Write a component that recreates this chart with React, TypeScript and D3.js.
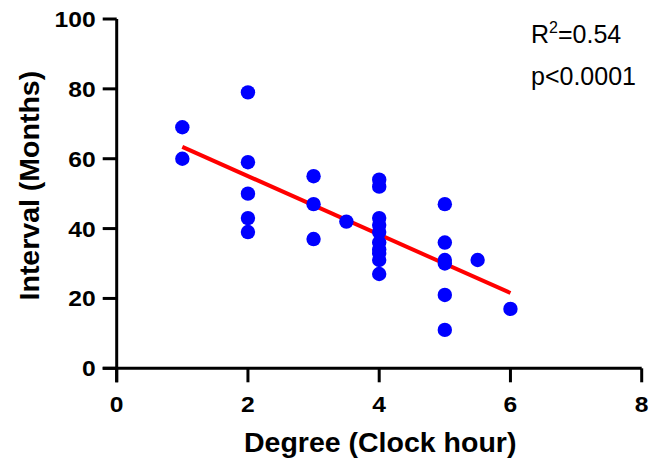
import React from "react";
import * as d3 from "d3";

const degree = [
  1, 1,
  2, 2, 2, 2, 2,
  3, 3, 3,
  3.5,
  4, 4, 4, 4, 4, 4, 4, 4, 4, 4,
  5, 5, 5, 5, 5, 5,
  5.5,
  6,
];
const interval = [
  69, 60,
  79, 59, 50, 43, 39,
  55, 47, 37,
  42,
  54, 52, 43, 41, 39, 36, 34, 33, 31, 27,
  47, 36, 31, 30, 21, 11,
  31,
  17,
];
const xTicks = [0, 2, 4, 6, 8];
const yTicks = [0, 20, 40, 60, 80, 100];
const xTitle = "Degree (Clock hour)";
const yTitle = "Interval (Months)";
const r2Label = "0.54";
const pLabel = "p<0.0001";

const W = 654;
const H = 464;
const FONT = "Arial, 'Liberation Sans', Helvetica, sans-serif";

export default function App() {
  const x = d3.scaleLinear().domain([0, 8]).range([116.7, 641.7]);
  const y = d3.scaleLinear().domain([0, 100]).range([368.3, 19]);

  // least squares fit
  const mx = d3.mean(degree) as number;
  const my = d3.mean(interval) as number;
  let sxy = 0;
  let sxx = 0;
  degree.forEach((d, i) => {
    sxy += (d - mx) * (interval[i] - my);
    sxx += (d - mx) * (d - mx);
  });
  const slope = sxy / sxx;
  const intercept = my - slope * mx;
  const xMin = d3.min(degree) as number;
  const xMax = d3.max(degree) as number;
  const fitLine = d3
    .line<number>()
    .x((d) => x(d))
    .y((d) => y(intercept + slope * d));

  const tickLen = 14;
  const sw = 3;
  const stretch = 1.12;

  return (
    <svg
      width={W}
      height={H}
      style={{ position: "absolute", left: 0, top: 0, background: "#fff" }}
    >
      <rect x={0} y={0} width={W} height={H} fill="#fff" />
      {/* regression line */}
      <path
        d={fitLine([xMin, xMax]) || ""}
        stroke="#ff0000"
        strokeWidth={4}
        fill="none"
      />
      {/* points */}
      {degree.map((d, i) => (
        <circle key={i} cx={x(d)} cy={y(interval[i])} r={7.2} fill="#0000ff" />
      ))}
      {/* y axis */}
      <line
        x1={x(0)}
        x2={x(0)}
        y1={y(100)}
        y2={y(0) + tickLen}
        stroke="#000"
        strokeWidth={sw}
      />
      {yTicks.map((t) => (
        <g key={"y" + t}>
          <line
            x1={x(0) - tickLen}
            x2={x(0)}
            y1={y(t)}
            y2={y(t)}
            stroke="#000"
            strokeWidth={sw}
          />
          <text
            transform={`translate(${x(0) - 21}, ${y(t)}) scale(${stretch}, 1)`}
            dy="0.36em"
            textAnchor="end"
            fontFamily={FONT}
            fontWeight="bold"
            fontSize={22}
          >
            {t}
          </text>
        </g>
      ))}
      {/* x axis */}
      <line
        x1={x(0) - tickLen}
        x2={x(8)}
        y1={y(0)}
        y2={y(0)}
        stroke="#000"
        strokeWidth={sw}
      />
      {xTicks.map((t) => (
        <g key={"x" + t}>
          <line
            x1={x(t)}
            x2={x(t)}
            y1={y(0)}
            y2={y(0) + tickLen}
            stroke="#000"
            strokeWidth={sw}
          />
          <text
            transform={`translate(${x(t)}, 412) scale(${stretch}, 1)`}
            textAnchor="middle"
            fontFamily={FONT}
            fontWeight="bold"
            fontSize={22}
          >
            {t}
          </text>
        </g>
      ))}
      {/* axis titles */}
      <text
        x={(x(0) + x(8)) / 2 + 1}
        y={452}
        textAnchor="middle"
        fontFamily={FONT}
        fontWeight="bold"
        fontSize={28.5}
      >
        {xTitle}
      </text>
      <text
        transform={`translate(39, ${(y(0) + y(100)) / 2 - 8}) rotate(-90)`}
        textAnchor="middle"
        fontFamily={FONT}
        fontWeight="bold"
        fontSize={28.5}
      >
        {yTitle}
      </text>
      {/* stats */}
      <text x={531} y={43} fontFamily={FONT} fontSize={25}>
        R
        <tspan dy={-10} fontSize={16}>
          2
        </tspan>
        <tspan dy={10}>={r2Label}</tspan>
      </text>
      <text x={531} y={85} fontFamily={FONT} fontSize={25}>
        {pLabel}
      </text>
    </svg>
  );
}
